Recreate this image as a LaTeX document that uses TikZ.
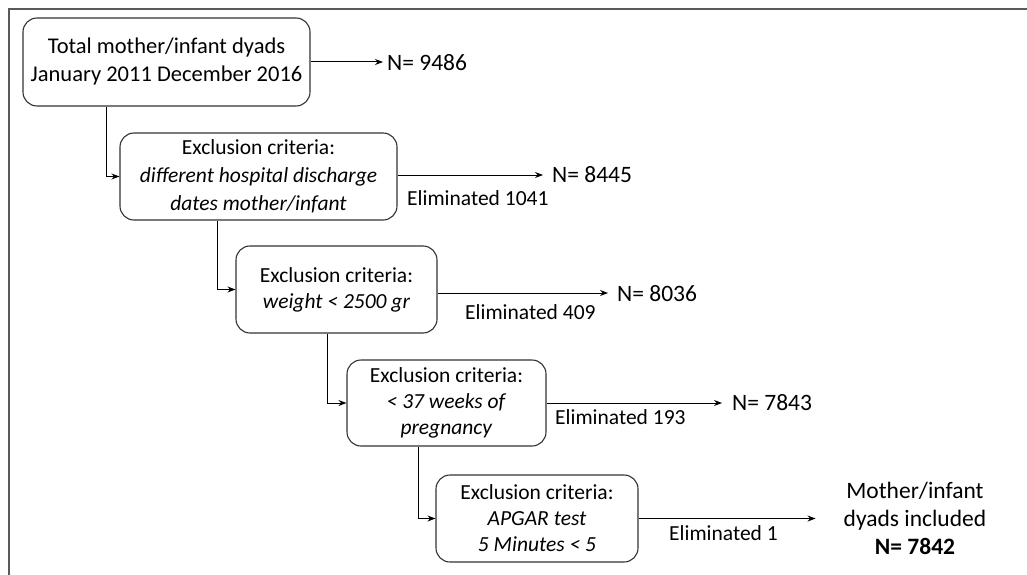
\documentclass[tikz,border=0pt]{standalone}
\usepackage{fontspec}
\setmainfont{Carlito}
\usetikzlibrary{arrows.meta}
\definecolor{boxline}{HTML}{333333}
\definecolor{framegray}{HTML}{5A5A5A}
\tikzset{
  stagebox/.style={draw=boxline, line width=1.1pt, rounded corners=14pt, align=center,
    inner sep=0pt, font=\fontsize{21.5}{26}\selectfont},
  arr/.style={draw=black, line width=1pt, -{Stealth[length=8pt,width=6pt]}},
  conn/.style={draw=black, line width=1pt, -{Stealth[length=8pt,width=6pt]}},
  nlabel/.style={anchor=west, inner sep=0pt, font=\fontsize{23.5}{28}\selectfont},
  elim/.style={anchor=west, inner sep=0pt, font=\fontsize{21.5}{26}\selectfont},
  frameline/.style={draw=framegray, line width=2pt},
}
\begin{document}
\begin{tikzpicture}[x=1pt,y=-1pt]
\useasboundingbox (0,0) rectangle (1027,575);
\draw[frameline] (1027,9) -- (9,9) -- (9,575);

\node[stagebox, minimum width=287pt, minimum height=88pt, font=\fontsize{22.5}{28}\selectfont] (b1) at (166.5,62)
  {Total mother/infant dyads\\January 2011 December 2016};
\node[stagebox, minimum width=277pt, minimum height=87pt, font=\fontsize{21.5}{28}\selectfont] (b2) at (258.5,176.5)
  {Exclusion criteria:\\\textit{different hospital discharge}\\\textit{dates mother/infant}};
\node[stagebox, minimum width=201pt, minimum height=87pt] (b3) at (336.5,289.5)
  {Exclusion criteria:\\\textit{weight < 2500 gr}};
\node[stagebox, minimum width=199pt, minimum height=86pt] (b4) at (446.5,403)
  {Exclusion criteria:\\\textit{< 37 weeks of}\\\textit{pregnancy}};
\node[stagebox, minimum width=202pt, minimum height=87pt] (b5) at (537,518.5)
  {Exclusion criteria:\\\textit{APGAR test}\\\textit{5 Minutes < 5}};

\node[nlabel] (n1) at (387,63) {N= 9486};
\node[nlabel] (n2) at (552,175) {N= 8445};
\node[nlabel] (n3) at (617,294) {N= 8036};
\node[nlabel] (n4) at (732,403) {N= 7843};
\node[align=center, inner sep=0pt, font=\fontsize{23.5}{28}\selectfont] (n5) at (915,518)
  {Mother/infant\\dyads included\\\textbf{N= 7842}};

\node[elim] (e1) at (407,198) {Eliminated 1041};
\node[elim] (e2) at (465,312) {Eliminated 409};
\node[elim] (e3) at (555,417) {Eliminated 193};
\node[elim] (e4) at (669,533) {Eliminated 1};

\draw[arr] (b1.east) -- ([xshift=-4pt]b1.east -| n1.west);
\draw[arr] ([yshift=1.5pt]b2.east) -- ([xshift=-9pt,yshift=1.5pt]b2.east -| n2.west);
\draw[arr] ([yshift=-3.5pt]b3.east) -- ([xshift=-9pt,yshift=-3.5pt]b3.east -| n3.west);
\draw[arr] (b4.east) -- ([xshift=-10pt]b4.east -| n4.west);
\draw[arr] (b5.east) -- ([xshift=-28pt]b5.east -| n5.west);

\draw[conn] ([xshift=84pt]b1.south west) |- (b2.west);
\draw[conn] ([xshift=98pt]b2.south west) |- (b3.west);
\draw[conn] ([xshift=92pt]b3.south west) |- (b4.west);
\draw[conn] ([xshift=72pt]b4.south west) |- (b5.west);
\end{tikzpicture}
\end{document}
